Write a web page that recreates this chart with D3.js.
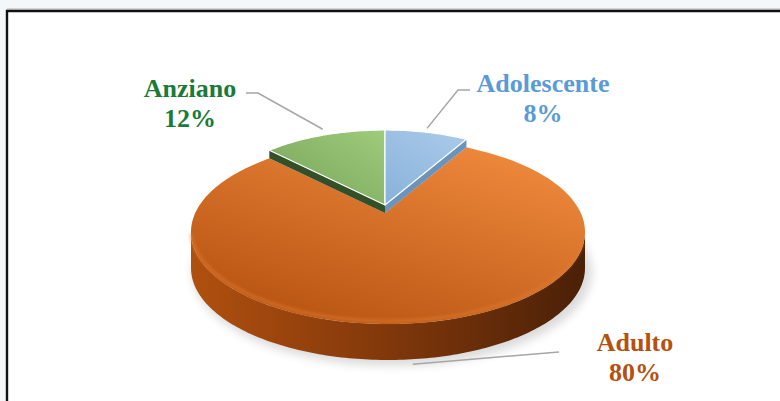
<!DOCTYPE html>
<html>
<head>
<meta charset="utf-8">
<script src="https://cdn.jsdelivr.net/npm/d3@7"></script>
<style>
  html, body { margin: 0; padding: 0; background: #f3f7fa; }
  svg { display: block; }
</style>
</head>
<body>
<script>
// data
const categories = ['Adolescente', 'Adulto', 'Anziano'];
const values = [8, 80, 12];
const percentLabels = ['8%', '80%', '12%'];

// colours per category
const labelColors = ['#5b9bd5', '#b5500f', '#1a7a3a'];
const topLight = ['#a9c9e9', '#f08a3e', '#9fcb7c'];
const topDark = ['#8ab3db', '#b4510f', '#74a257'];
const faceColors = ['#6c93bb', '#7a360b', '#34502a'];

const width = 780, height = 401;

const svg = d3.select('body').append('svg')
  .attr('width', width)
  .attr('height', height);

const defs = svg.append('defs');

// frame
svg.append('rect')
  .attr('x', 7).attr('y', 10)
  .attr('width', width).attr('height', height)
  .attr('fill', '#ffffff');
svg.append('line')
  .attr('x1', 7).attr('x2', width).attr('y1', 9).attr('y2', 9)
  .attr('stroke', '#b0b4b8').attr('stroke-width', 1);
svg.append('path')
  .attr('d', `M7,${height} V11 H${width}`)
  .attr('fill', 'none')
  .attr('stroke', '#111').attr('stroke-width', 2.4);

// pie angles
const pie = d3.pie().sort(null).value((d) => d);
const arcs = pie(values);

// two ellipses: the big front slice and the two small back slices
const geoBig = { cx: 388, cy: 232, rx: 197, ry: 92, depth: 36 };
const geoSmall = { cx: 385, cy: 205, rx: 169, ry: 75, depth: 8 };
const geos = [geoSmall, geoBig, geoSmall];

function pt(g, a, dy = 0) {
  return [g.cx + g.rx * Math.sin(a), g.cy - g.ry * Math.cos(a) + dy];
}
function arcPts(g, a0, a1, dy = 0) {
  const n = Math.max(2, Math.ceil(Math.abs(a1 - a0) / 0.02));
  return d3.range(n + 1).map((i) => pt(g, a0 + (a1 - a0) * i / n, dy));
}
const line = d3.line();

// gradients
arcs.forEach((d, i) => {
  const gr = defs.append('linearGradient').attr('id', 'top' + i)
    .attr('x1', i === 2 ? 1 : 0.85).attr('y1', 0)
    .attr('x2', i === 2 ? 0 : 0.15).attr('y2', 1);
  gr.append('stop').attr('offset', '0%').attr('stop-color', topLight[i]);
  gr.append('stop').attr('offset', '100%').attr('stop-color', topDark[i]);
});
const side = defs.append('linearGradient').attr('id', 'side')
  .attr('x1', 0).attr('x2', 1).attr('y1', 0).attr('y2', 0);
side.append('stop').attr('offset', '0%').attr('stop-color', '#b0500f');
side.append('stop').attr('offset', '45%').attr('stop-color', '#863a0b');
side.append('stop').attr('offset', '100%').attr('stop-color', '#4a2007');

const blur = defs.append('filter').attr('id', 'blur')
  .attr('x', '-20%').attr('y', '-20%').attr('width', '140%').attr('height', '140%');
blur.append('feGaussianBlur').attr('stdDeviation', 5);
const soft = defs.append('filter').attr('id', 'soft');
soft.append('feGaussianBlur').attr('stdDeviation', 1.5);

// shadow under the pie
svg.append('ellipse')
  .attr('cx', geoBig.cx + 4).attr('cy', geoBig.cy + geoBig.depth + 4)
  .attr('rx', geoBig.rx + 3).attr('ry', geoBig.ry + 2)
  .attr('fill', '#000').attr('opacity', 0.14)
  .attr('filter', 'url(#blur)');

// draw order: big slice first, then the back slices on top
[1, 2, 0].forEach((i) => {
  const d = arcs[i];
  const g = geos[i];
  const grp = svg.append('g');

  // outer side wall (front half only)
  const s0 = Math.max(d.startAngle, Math.PI / 2);
  const s1 = Math.min(d.endAngle, 3 * Math.PI / 2);
  if (s1 > s0) {
    const pts = arcPts(g, s0, s1).concat(arcPts(g, s1, s0, g.depth));
    grp.append('path').attr('d', line(pts) + 'Z').attr('fill', 'url(#side)');
  }

  // radial cut faces that look toward the viewer
  if (i !== 1) {
    [d.startAngle, d.endAngle].forEach((a, k) => {
      if (a === 0 || a === 2 * Math.PI) return;
      const c = [g.cx, g.cy];
      const e = pt(g, a);
      const pts = [c, e, [e[0], e[1] + g.depth], [c[0], c[1] + g.depth]];
      grp.append('path').attr('d', line(pts) + 'Z').attr('fill', faceColors[i]);
    });
  }

  // top face; the big slice closes on the bottom corners of the back slices
  let top;
  if (i === 1) {
    top = arcPts(g, d.startAngle, d.endAngle)
      .concat([pt(geoSmall, d.endAngle, geoSmall.depth),
        [geoSmall.cx, geoSmall.cy + geoSmall.depth],
        pt(geoSmall, d.startAngle, geoSmall.depth)]);
  } else {
    top = [[g.cx, g.cy]].concat(arcPts(g, d.startAngle, d.endAngle));
  }
  grp.append('path')
    .attr('d', line(top) + 'Z')
    .attr('fill', `url(#top${i})`)
    .attr('stroke', i === 1 ? 'none' : '#ffffff')
    .attr('stroke-width', i === 1 ? 0 : 1.2)
    .attr('stroke-linejoin', 'round');

  // soft bevel along the front rim of the big slice
  if (i === 1) {
    grp.append('path')
      .attr('d', line(arcPts(g, Math.PI / 2 + 0.15, 3 * Math.PI / 2 - 0.05, -3)))
      .attr('fill', 'none')
      .attr('stroke', '#e07a30').attr('stroke-width', 3)
      .attr('opacity', 0.6)
      .attr('filter', 'url(#soft)');
  }
});

// labels and leader lines
const labelPos = [
  { x: 543, y: 92, line: [[470, 90], [458, 90]] },
  { x: 635, y: 351, line: [[559, 352]] },
  { x: 190, y: 97, line: [[246, 93], [258, 93]] },
];
const anchorOffset = [-4, 5, -6];

arcs.forEach((d, i) => {
  const g = geos[i];
  const mid = (d.startAngle + d.endAngle) / 2;
  const dy = i === 1 ? g.depth : 0;
  const a = pt(g, mid, dy + anchorOffset[i]);
  const pts = labelPos[i].line.concat([a]);
  svg.append('path')
    .attr('d', line(pts))
    .attr('fill', 'none')
    .attr('stroke', '#a6a6a6')
    .attr('stroke-width', 1.5);

  const t = svg.append('text')
    .attr('x', labelPos[i].x).attr('y', labelPos[i].y)
    .attr('text-anchor', 'middle')
    .attr('font-family', '"Liberation Serif", "Times New Roman", serif')
    .attr('font-weight', 'bold')
    .attr('font-size', 26)
    .attr('fill', labelColors[i]);
  t.append('tspan').attr('x', labelPos[i].x).text(categories[i]);
  t.append('tspan').attr('x', labelPos[i].x).attr('dy', 30).text(percentLabels[i]);
});
</script>
</body>
</html>
